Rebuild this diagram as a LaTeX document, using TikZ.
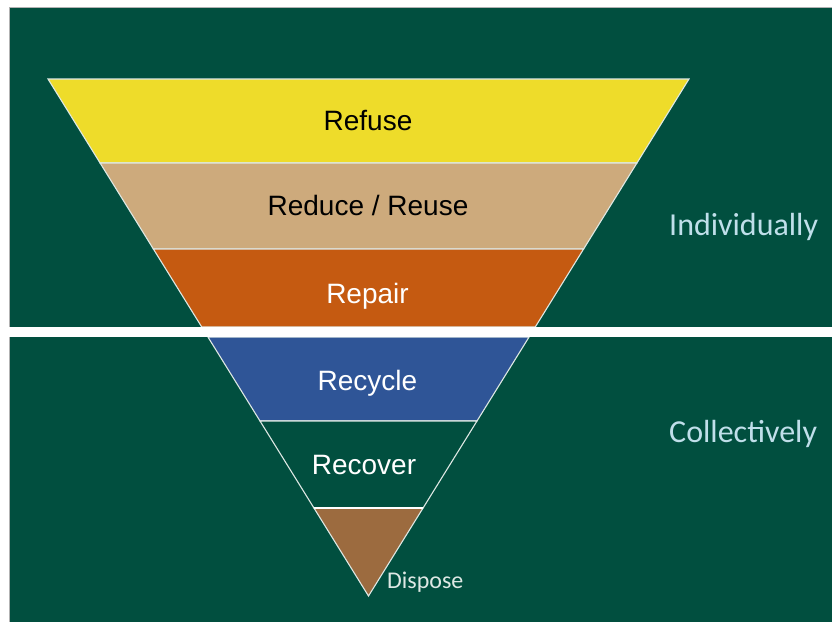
\documentclass[tikz,border=0pt]{standalone}
\usepackage{fontspec}
\setmainfont{Liberation Sans}
\newfontfamily\calib{Carlito}
\usetikzlibrary{calc}
\definecolor{bg}{RGB}{1,79,63}
\definecolor{cyellow}{RGB}{238,220,42}
\definecolor{ctan}{RGB}{205,170,124}
\definecolor{corange}{RGB}{197,90,17}
\definecolor{cblue}{RGB}{47,85,151}
\definecolor{cbrown}{RGB}{156,107,63}
\definecolor{edge}{RGB}{222,232,228}
\definecolor{side}{RGB}{192,223,234}
\tikzset{
  band/.style={draw=edge, line width=1.1pt, line join=miter},
  lbl/.style={anchor=base, inner sep=0pt, font=\fontsize{28}{32}\selectfont},
  sidelbl/.style={anchor=base west, inner sep=0pt, text=side, font=\calib\fontsize{32}{36}\selectfont},
}
\begin{document}
\begin{tikzpicture}[x=1pt,y=-1pt]
\useasboundingbox (0,0) rectangle (832,621);
\fill[white] (0,0) rectangle (832,621);
\filldraw[fill=bg, draw=gray!60, line width=0.8pt] (9,7) rectangle (834,623);
\coordinate (A) at (48,79);
\coordinate (B) at (689,79);
\coordinate (C) at (368.5,596);
\foreach \n/\t in {1/0.1625, 2/0.3288, 3/0.4797, 4/0.4990, 5/0.6615, 6/0.8298}{
  \coordinate (L\n) at ($(A)!\t!(C)$);
  \coordinate (R\n) at ($(B)!\t!(C)$);
}
\filldraw[band, fill=cyellow] (A) -- (B) -- (R1) -- (L1) -- cycle;
\filldraw[band, fill=ctan] (L1) -- (R1) -- (R2) -- (L2) -- cycle;
\filldraw[band, fill=corange] (L2) -- (R2) -- (R3) -- (L3) -- cycle;
\filldraw[band, fill=cblue] (L4) -- (R4) -- (R5) -- (L5) -- cycle;
\filldraw[band, fill=bg] (L5) -- (R5) -- (R6) -- (L6) -- cycle;
\filldraw[band, fill=cbrown] (L6) -- (R6) -- (C) -- cycle;
\draw[white, line width=1.8pt] (L6) -- (R6);
\fill[white] (9,327) rectangle (834,337);
\node[lbl] (refuse) at (368,130) {Refuse};
\node[lbl] (reduce) at (368,215) {Reduce / Reuse};
\node[lbl, text=white] (repair) at (367.5,303) {Repair};
\node[lbl, text=white] (recycle) at (367.5,390) {Recycle};
\node[lbl, text=white] (recover) at (364,474) {Recover};
\node[anchor=base west, inner sep=0pt, text=edge, font=\calib\fontsize{24}{28}\selectfont] (dispose) at (387,588) {Dispose};
\node[sidelbl] (indiv) at (669,235) {Individually};
\node[sidelbl] (coll) at (669,442) {Collectively};
\end{tikzpicture}
\end{document}
